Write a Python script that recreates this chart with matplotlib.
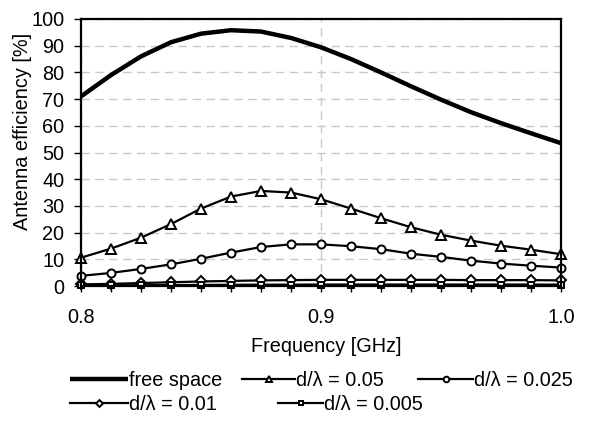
import matplotlib
matplotlib.use("Agg")
import matplotlib.pyplot as plt
from matplotlib import ticker

plt.rcParams['font.family'] = ['Liberation Sans', 'DejaVu Sans']
plt.rcParams['font.size'] = 14.3

freq = [0.8 + 0.0125 * i for i in range(17)]
free_space = [71, 79, 86, 91.3, 94.5, 95.8, 95.3, 92.9, 89.4, 85, 80, 74.8, 69.8, 65.1, 61, 57.2, 53.5]
d_005 = [10.6, 14, 18.1, 23.2, 29, 33.5, 35.6, 35, 32.5, 29, 25.4, 22, 19.2, 17, 15.1, 13.6, 11.9]
d_0025 = [3.8, 4.9, 6.4, 8.1, 10.2, 12.5, 14.6, 15.6, 15.6, 14.9, 13.8, 12.1, 10.9, 9.5, 8.4, 7.6, 6.9]
d_001 = [0.6, 0.8, 1.1, 1.4, 1.7, 1.9, 2.1, 2.2, 2.3, 2.3, 2.3, 2.3, 2.3, 2.2, 2.2, 2.2, 2.1]
d_0005 = [0.2, 0.25, 0.3, 0.35, 0.4, 0.45, 0.5, 0.5, 0.55, 0.55, 0.55, 0.55, 0.55, 0.55, 0.55, 0.55, 0.5]
labels = ["free space", "d/λ = 0.05", "d/λ = 0.025", "d/λ = 0.01", "d/λ = 0.005"]

fig = plt.figure(figsize=(6.02, 4.24), dpi=100)
ax = fig.add_axes([81 / 602, 1 - 286 / 424, 480 / 602, 267 / 424])

mk = dict(color='k', lw=1.6, mfc='white', mec='k', mew=1.4, ms=5.8, clip_on=False)
h0, = ax.plot(freq, free_space, color='k', lw=3.2, solid_capstyle='butt', zorder=5)
h1, = ax.plot(freq, d_005, marker='^', **dict(mk, ms=6.5))
h2, = ax.plot(freq, d_0025, marker='o', **mk)
h3, = ax.plot(freq, d_001, marker='D', **dict(mk, ms=5))
h4, = ax.plot(freq, d_0005, marker='s', **dict(mk, ms=5))

ax.set_xlim(0.8, 1.0)
ax.set_ylim(0, 100)
ax.set_yticks(range(0, 101, 10))
ax.set_xticks([0.8, 0.9, 1.0])
ax.xaxis.set_major_formatter(ticker.FormatStrFormatter('%.1f'))
ax.xaxis.set_minor_locator(ticker.FixedLocator(freq))
ax.tick_params(axis='x', which='major', direction='inout', length=8, width=1, pad=12)
ax.tick_params(axis='x', which='minor', direction='out', length=4, width=1)
ax.tick_params(axis='y', direction='out', length=5, width=1, pad=7)
ax.grid(axis='y', color='#c8c8c8', linestyle=(0, (6, 4)), lw=1)
ax.grid(axis='x', which='major', color='#c8c8c8', linestyle=(0, (6, 4)), lw=1)
for s in ax.spines.values():
    s.set_linewidth(1.6)
ax.set_axisbelow(True)

ax.set_xlabel("Frequency [GHz]")
ax.xaxis.set_label_coords(326 / 602, 1 - 347 / 424, transform=fig.transFigure)
ax.xaxis.label.set_va('center')
ax.set_ylabel("Antenna efficiency [%]")
ax.yaxis.set_label_coords(22 / 602, 1 - 131 / 424, transform=fig.transFigure)
ax.yaxis.label.set_va('center')

# legend entries laid out like the original (two rows, fixed slots)
slots = [(70, 380, 2.92), (242, 380, 2.67), (418, 380, 2.77), (70, 404, 2.92), (278, 404, 2.27)]
for h, lab, (px, py, hl) in zip([h0, h1, h2, h3, h4], labels, slots):
    fig.legend([h], [lab], loc='center left', bbox_to_anchor=(px / 602, 1 - py / 424),
               frameon=False, handlelength=hl, handletextpad=0.05,
               borderpad=0, borderaxespad=0, markerscale=0.7)

fig.savefig("out.png", dpi=100)
